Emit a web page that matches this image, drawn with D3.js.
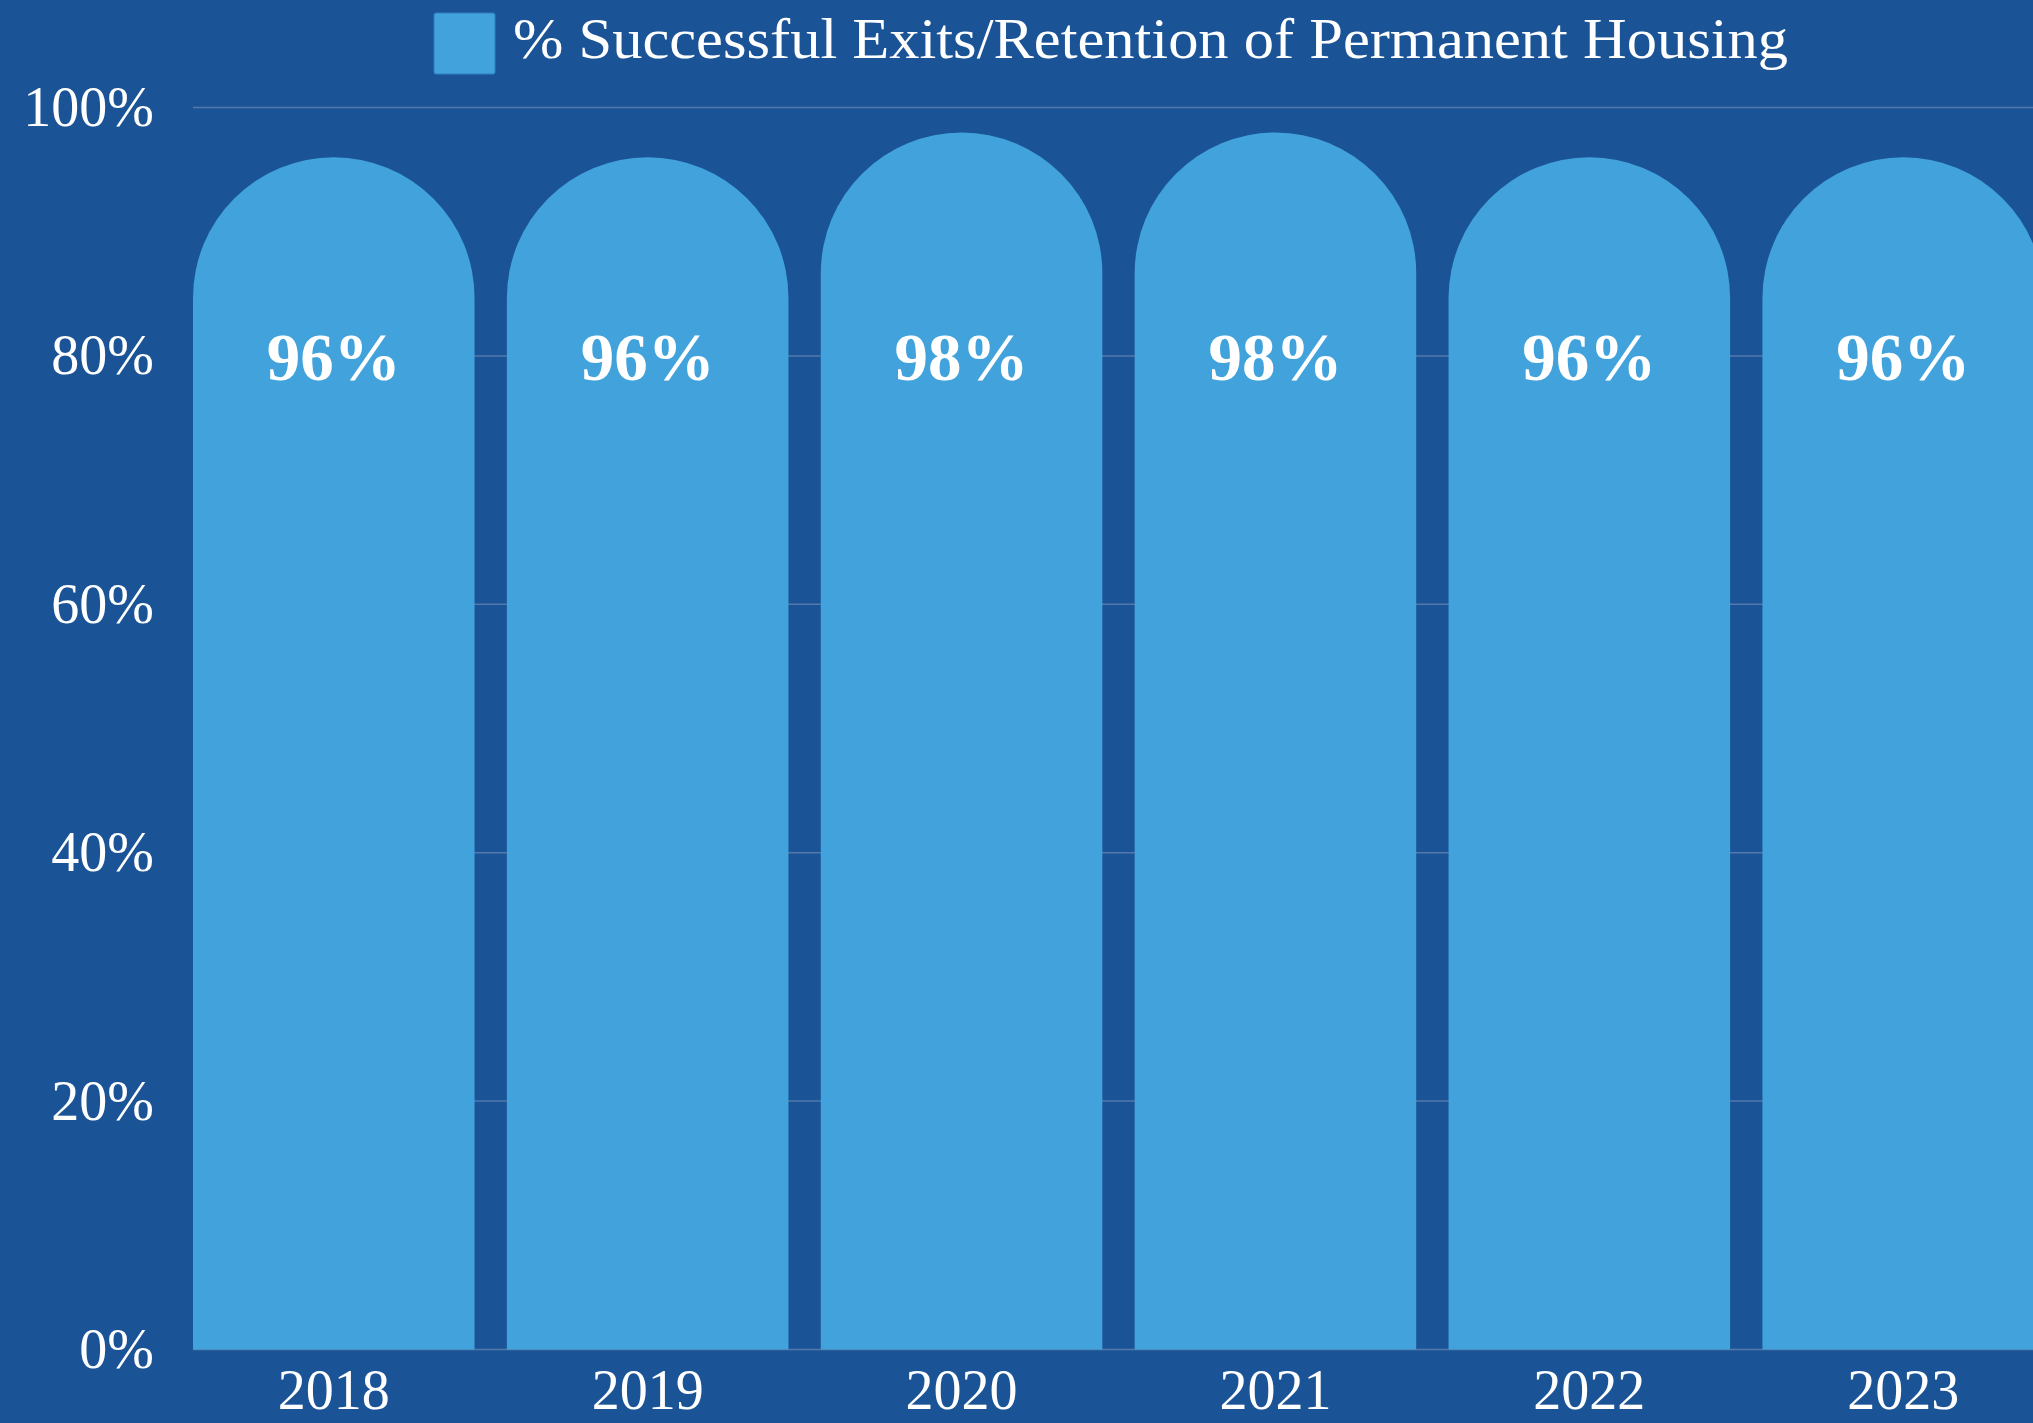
<!DOCTYPE html>
<html lang="en">
<head>
    <meta charset="UTF-8">
    <title>% Successful Exits/Retention of Permanent Housing</title>
    <style>
        body {
            margin: 0;
            padding: 0;
            background: #1b5496;
            overflow: hidden;
        }

        .tick-label {
            fill: #ffffff;
            font-family: "Liberation Serif", "DejaVu Serif", serif;
            font-size: 56px;
        }

        .bar-label {
            fill: #ffffff;
            font-family: "Liberation Serif", "DejaVu Serif", serif;
            font-weight: bold;
            font-size: 67px;
            text-anchor: middle;
        }

        .grid line {
            stroke: #5378ab;
            stroke-width: 1.5;
        }
    </style>
</head>
<body>
<svg id="chart"></svg>

<script src="https://d3js.org/d3.v7.min.js"></script>
<script>
    // data
    var years = ["2018", "2019", "2020", "2021", "2022", "2023"];
    var successRate = [96, 96, 98, 98, 96, 96];
    var yTicks = [0, 20, 40, 60, 80, 100];
    var seriesName = "% Successful Exits/Retention of Permanent Housing";

    var width = 2033, height = 1423;
    var barColor = "#42a3dc";

    var svg = d3.select("#chart")
        .attr("width", width)
        .attr("height", height);

    svg.append("rect")
        .attr("width", width)
        .attr("height", height)
        .attr("fill", "#1b5496");

    // the last bar runs off the right edge in the original
    var x = d3.scaleBand()
        .domain(years)
        .range([193, 2044])
        .paddingInner(0.103)
        .paddingOuter(0);

    var y = d3.scaleLinear()
        .domain([0, 100])
        .range([1349.5, 107.5]);

    // grid lines
    svg.append("g")
        .attr("class", "grid")
        .selectAll("line")
        .data(yTicks)
        .enter().append("line")
        .attr("x1", 193)
        .attr("x2", width)
        .attr("y1", d => y(d))
        .attr("y2", d => y(d));

    // y axis labels
    var yAxis = d3.axisLeft(y)
        .tickValues(yTicks)
        .tickFormat(d => d + "%")
        .tickSize(0)
        .tickPadding(0);

    var yG = svg.append("g")
        .attr("transform", "translate(154,0)")
        .call(yAxis);
    yG.select(".domain").remove();
    yG.selectAll("text")
        .attr("class", "tick-label")
        .attr("font-size", null)
        .attr("font-family", null)
        .attr("fill", null);

    // bars with rounded tops
    var data = years.map((yr, i) => ({ year: yr, value: successRate[i] }));
    var bw = x.bandwidth();
    var r = bw / 2;

    svg.selectAll(".bar")
        .data(data)
        .enter().append("path")
        .attr("class", "bar")
        .attr("fill", barColor)
        .attr("d", function (d) {
            var x0 = x(d.year), x1 = x0 + bw;
            var top = y(d.value), base = y(0);
            return "M" + x0 + "," + base +
                "V" + (top + r) +
                "A" + r + "," + r + " 0 0 1 " + x1 + "," + (top + r) +
                "V" + base + "Z";
        });

    // value labels
    svg.selectAll(".bar-label")
        .data(data)
        .enter().append("text")
        .attr("class", "bar-label")
        .attr("x", d => x(d.year) + bw / 2)
        .attr("y", y(80))
        .attr("dy", "0.36em")
        .text(d => d.value + "%");

    // x axis labels
    var xAxis = d3.axisBottom(x)
        .tickSize(0)
        .tickPadding(0);

    var xG = svg.append("g")
        .attr("transform", "translate(0,1409)")
        .call(xAxis);
    xG.select(".domain").remove();
    xG.selectAll("text")
        .attr("class", "tick-label")
        .attr("font-size", "54px")
        .attr("font-family", null)
        .attr("fill", null)
        .attr("dy", 0)
        .attr("text-anchor", "middle");

    // legend
    var legend = svg.append("g");
    legend.append("rect")
        .attr("x", 434)
        .attr("y", 13)
        .attr("width", 61)
        .attr("height", 61)
        .attr("rx", 2)
        .attr("fill", barColor)
        .attr("stroke", "#2f7fc0")
        .attr("stroke-width", 1);
    legend.append("text")
        .attr("class", "tick-label")
        .attr("x", 513)
        .attr("y", 58)
        .attr("font-size", "62px")
        .attr("textLength", 1275)
        .attr("lengthAdjust", "spacingAndGlyphs")
        .text(seriesName);
</script>
</body>
</html>
